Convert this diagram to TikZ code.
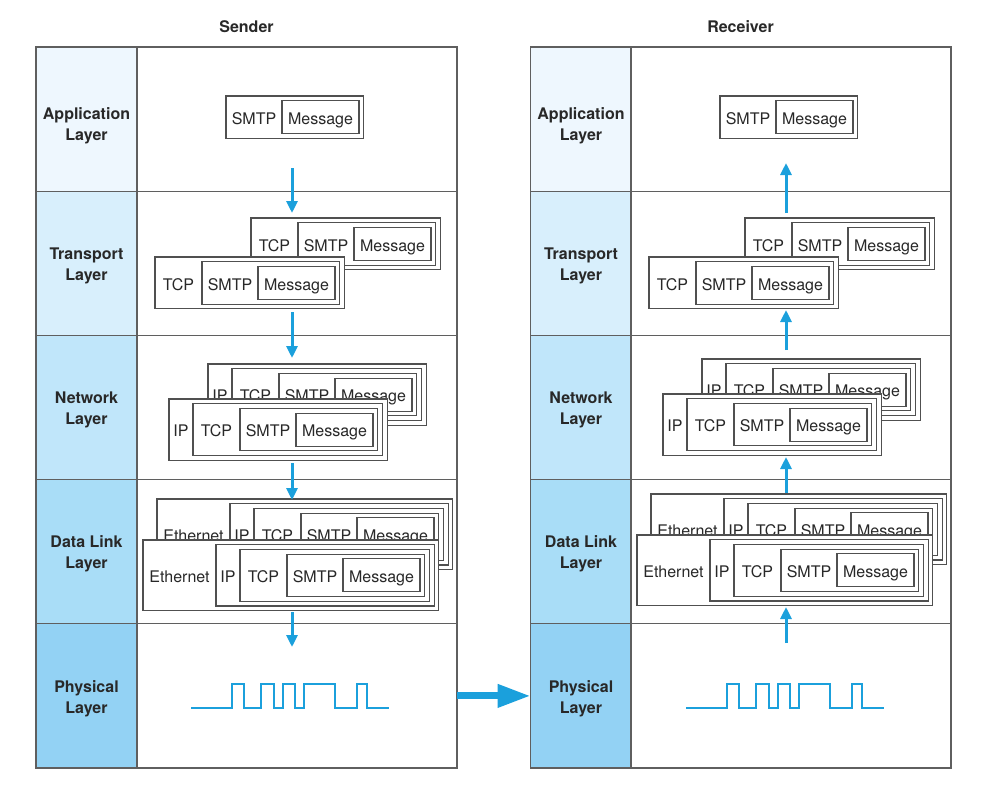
\documentclass[tikz,border=0pt]{standalone}
\usepackage{fontspec}
\setmainfont{TeX Gyre Heros}
\usetikzlibrary{arrows.meta}
\definecolor{flowblue}{RGB}{27,160,220}
\definecolor{gridgray}{RGB}{95,95,95}
\definecolor{boxgray}{RGB}{80,80,80}
\definecolor{txt}{RGB}{40,40,40}
\definecolor{cApp}{RGB}{238,247,254}
\definecolor{cTra}{RGB}{216,239,252}
\definecolor{cNet}{RGB}{192,230,250}
\definecolor{cDat}{RGB}{169,221,247}
\definecolor{cPhy}{RGB}{147,210,244}
\tikzset{
  lcell/.style={draw=gridgray, line width=1.2pt, minimum width=101pt, minimum height=144.2pt, inner sep=0pt, outer sep=0pt},
  ccell/.style={draw=gridgray, line width=1.2pt, minimum width=320pt, minimum height=144.2pt, inner sep=0pt, outer sep=0pt},
  lbl/.style={align=center, text=txt, font=\fontsize{16}{21}\selectfont\bfseries, inner sep=0pt},
  ttl/.style={text=txt, font=\fontsize{16}{21}\selectfont\bfseries, inner sep=0pt, anchor=base},
  pbox/.style={draw=boxgray, line width=1.2pt, fill=white},
  ptext/.style={text=txt, font=\fontsize{16}{21}\selectfont, inner sep=0pt, text height=11.5pt, text depth=0pt, yshift=-1.5pt},
  flow/.style={draw=flowblue, line width=3pt, -{Triangle[width=11pt,length=12pt]}},
  bigflow/.style={draw=flowblue, line width=7pt, -{Triangle[width=22pt,length=33pt]}},
  wave/.style={draw=flowblue, line width=2.2pt},
}
% #1 prefix, #2 x, #3 y (top-left), #4 list header/width
\newcommand{\packet}[4]{%
  \begin{scope}[shift={(#2,#3)}]
    \gdef\pkn{0}\gdef\pksum{0}%
    \foreach \hd/\hw in {#4}{%
      \pgfmathparse{int(\pkn+1)}\xdef\pkn{\pgfmathresult}%
      \pgfmathparse{\pksum+\hw}\xdef\pksum{\pgfmathresult}}%
    \pgfmathsetmacro\pkW{\pksum+77+\pkn*4.7}%
    \pgfmathsetmacro\pkH{33+2*\pkn*4.7}%
    \gdef\pkx{0}\gdef\pkl{0}%
    \foreach \hd/\hw in {#4}{%
      \draw[pbox] (\pkx,\pkl*4.7) rectangle (\pkW-\pkl*4.7,\pkH-\pkl*4.7);
      \node[ptext] (#1-\hd) at (\pkx+\hw/2,\pkH/2) {\hd};
      \pgfmathparse{\pkx+\hw}\xdef\pkx{\pgfmathresult}%
      \pgfmathparse{int(\pkl+1)}\xdef\pkl{\pgfmathresult}}%
    \draw[pbox] (\pkx,\pkl*4.7) rectangle (\pkW-\pkl*4.7,\pkH-\pkl*4.7);
    \node[ptext] (#1-msg) at (\pkx+38.5,\pkH/2) {Message};
  \end{scope}}
\begin{document}
\begin{tikzpicture}[x=1pt,y=-1pt]
\useasboundingbox (0,0) rectangle (998,792);
% titles
\node[ttl] (sTitle) at (246.5,33) {Sender};
\node[ttl] (rTitle) at (740.5,33) {Receiver};
% table cells
\foreach \i/\c in {1/cApp,2/cTra,3/cNet,4/cDat,5/cPhy}{
  \node[lcell, fill=\c] (sL\i) at (86.5,{47+72.1+(\i-1)*144.2}) {};
  \node[ccell] (sC\i) at (297,{47+72.1+(\i-1)*144.2}) {};
  \node[lcell, fill=\c] (rL\i) at (581,{47+72.1+(\i-1)*144.2}) {};
  \node[ccell] (rC\i) at (791,{47+72.1+(\i-1)*144.2}) {};
}
% layer labels
\foreach \p in {s,r}{
  \node[lbl, yshift=-6.5pt] (\p T1) at (\p L1) {Application\\Layer};
  \node[lbl, yshift=-2.5pt] (\p T2) at (\p L2) {Transport\\Layer};
  \node[lbl, yshift=-2.5pt] (\p T3) at (\p L3) {Network\\Layer};
  \node[lbl, yshift=-2.5pt] (\p T4) at (\p L4) {Data Link\\Layer};
  \node[lbl, yshift=-3pt] (\p T5) at (\p L5) {Physical\\Layer};
}
% sender packets
\packet{sA}{226}{96}{SMTP/56}
\packet{sTb}{251}{218}{TCP/47,SMTP/56}
\packet{sTf}{155}{257}{TCP/47,SMTP/56}
\packet{sNb}{208}{364}{IP/24,TCP/47,SMTP/56}
\packet{sNf}{169}{399}{IP/24,TCP/47,SMTP/56}
\packet{sDb}{157}{499}{Ethernet/73,IP/24,TCP/47,SMTP/56}
\packet{sDf}{143}{540}{Ethernet/73,IP/24,TCP/47,SMTP/56}
% receiver packets
\packet{rA}{720}{96}{SMTP/56}
\packet{rTb}{745}{218}{TCP/47,SMTP/56}
\packet{rTf}{649}{257}{TCP/47,SMTP/56}
\packet{rNb}{702}{359}{IP/24,TCP/47,SMTP/56}
\packet{rNf}{663}{394}{IP/24,TCP/47,SMTP/56}
\packet{rDb}{651}{494}{Ethernet/73,IP/24,TCP/47,SMTP/56}
\packet{rDf}{637}{535}{Ethernet/73,IP/24,TCP/47,SMTP/56}
% arrow end points
\coordinate (sa1) at (292,168); \coordinate (sa2) at (292,213);
\coordinate (sb1) at (292,312); \coordinate (sb2) at (292,358);
\coordinate (sc1) at (292,463); \coordinate (sc2) at (292,500);
\coordinate (sd1) at (292,612); \coordinate (sd2) at (292,647);
\coordinate (ra1) at (786,643); \coordinate (ra2) at (786,607);
\coordinate (rb1) at (786,493); \coordinate (rb2) at (786,457);
\coordinate (rc1) at (786,350); \coordinate (rc2) at (786,310);
\coordinate (rd1) at (786,213); \coordinate (rd2) at (786,163);
\draw[flow] (sa1) -- (sa2);
\draw[flow] (sb1) -- (sb2);
\draw[flow] (sc1) -- (sc2);
\draw[flow] (sd1) -- (sd2);
\draw[flow] (ra1) -- (ra2);
\draw[flow] (rb1) -- (rb2);
\draw[flow] (rc1) -- (rc2);
\draw[flow] (rd1) -- (rd2);
% transmission arrow
\draw[bigflow] (sC5.east) -- (rL5.west);
% signals
\foreach \dx in {0,495}{
\begin{scope}[xshift=\dx]
\draw[wave] (191,708) -- (232,708) -- (232,684) -- (244,684) -- (244,708) -- (261,708) -- (261,684) -- (274,684) -- (274,708) -- (283,708) -- (283,684) -- (295,684) -- (295,708) -- (304,708) -- (304,684) -- (335,684) -- (335,708) -- (357,708) -- (357,684) -- (367,684) -- (367,708) -- (389,708);
\end{scope}}
\end{tikzpicture}
\end{document}
